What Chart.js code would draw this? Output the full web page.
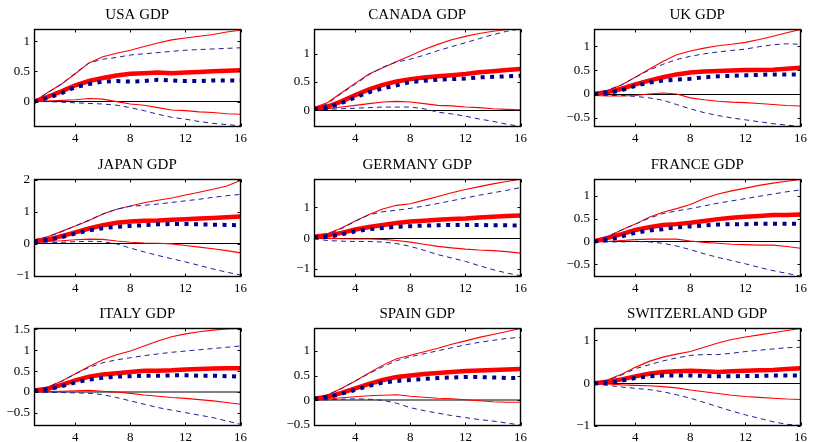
<!DOCTYPE html>
<html>
<head>
<meta charset="utf-8">
<script src="https://cdn.jsdelivr.net/npm/chart.js@4.4.1/dist/chart.umd.min.js"></script>
<style>
  html, body { margin: 0; padding: 0; background: #fff; }
  #grid { position: relative; width: 814px; height: 442px; overflow: hidden; }
  .cell { position: absolute; }
</style>
</head>
<body>
<div id="grid"></div>
<script>
// Horizon (quarters) and shared x ticks
const quarters = [1,2,3,4,5,6,7,8,9,10,11,12,13,14,15,16];
const xTicks = [4, 8, 12, 16];

// USA
const usaRedMid  = [0.00,0.08,0.17,0.27,0.34,0.39,0.43,0.46,0.47,0.48,0.47,0.48,0.49,0.50,0.51,0.52];
const usaRedLo   = [0.00,0.01,0.02,0.03,0.05,0.04,0.00,-0.04,-0.06,-0.10,-0.14,-0.15,-0.17,-0.18,-0.20,-0.21];
const usaRedHi   = [0.00,0.15,0.29,0.46,0.64,0.74,0.80,0.85,0.91,0.97,1.02,1.05,1.08,1.11,1.15,1.18];
const usaBlueMid = [0.00,0.06,0.14,0.24,0.29,0.33,0.34,0.33,0.34,0.36,0.35,0.34,0.34,0.35,0.35,0.35];
const usaBlueLo  = [0.00,0.00,-0.01,-0.02,-0.03,-0.04,-0.06,-0.10,-0.15,-0.21,-0.26,-0.29,-0.33,-0.36,-0.38,-0.40];
const usaBlueHi  = [0.00,0.15,0.29,0.47,0.64,0.70,0.73,0.77,0.79,0.81,0.83,0.85,0.86,0.87,0.88,0.89];
const usaYTicks  = [0, 0.5, 1];

// CANADA
const canRedMid  = [0.03,0.07,0.16,0.27,0.37,0.45,0.51,0.55,0.58,0.60,0.62,0.64,0.67,0.69,0.71,0.73];
const canRedLo   = [0.00,0.03,0.06,0.09,0.12,0.15,0.16,0.15,0.12,0.09,0.08,0.06,0.05,0.03,0.02,0.01];
const canRedHi   = [0.05,0.14,0.31,0.48,0.64,0.75,0.86,0.96,1.07,1.16,1.24,1.30,1.35,1.39,1.42,1.43];
const canBlueMid = [0.02,0.05,0.13,0.23,0.32,0.39,0.44,0.50,0.52,0.54,0.55,0.56,0.58,0.59,0.60,0.61];
const canBlueLo  = [0.00,0.02,0.03,0.04,0.05,0.06,0.06,0.06,0.03,-0.03,-0.06,-0.10,-0.15,-0.19,-0.24,-0.28];
const canBlueHi  = [0.03,0.12,0.30,0.46,0.63,0.76,0.85,0.90,0.97,1.05,1.12,1.19,1.26,1.33,1.39,1.43];
const canYTicks  = [0, 0.5, 1];

// UK
const ukRedMid   = [0.00,0.04,0.11,0.20,0.28,0.35,0.41,0.45,0.47,0.48,0.49,0.50,0.50,0.51,0.53,0.55];
const ukRedLo    = [-0.03,-0.04,-0.04,-0.03,0.00,0.02,0.00,-0.08,-0.12,-0.15,-0.17,-0.18,-0.20,-0.22,-0.24,-0.25];
const ukRedHi    = [0.01,0.08,0.19,0.35,0.52,0.68,0.82,0.90,0.96,1.01,1.04,1.08,1.14,1.21,1.28,1.35];
const ukBlueMid  = [0.00,0.02,0.08,0.17,0.24,0.28,0.30,0.32,0.35,0.37,0.38,0.39,0.40,0.41,0.41,0.41];
const ukBlueLo   = [-0.02,-0.03,-0.03,-0.05,-0.08,-0.13,-0.22,-0.31,-0.39,-0.45,-0.50,-0.54,-0.58,-0.62,-0.65,-0.68];
const ukBlueHi   = [0.01,0.08,0.19,0.35,0.50,0.62,0.72,0.79,0.84,0.88,0.91,0.94,0.99,1.03,1.05,1.04];
const ukYTicks   = [-0.5, 0, 0.5, 1];

// JAPAN
const jpnRedMid  = [0.08,0.13,0.24,0.36,0.48,0.58,0.66,0.70,0.72,0.73,0.75,0.77,0.79,0.81,0.83,0.85];
const jpnRedLo   = [0.05,0.08,0.10,0.13,0.15,0.14,0.09,0.05,0.03,0.02,0.00,-0.05,-0.10,-0.15,-0.21,-0.28];
const jpnRedHi   = [0.12,0.22,0.39,0.56,0.73,0.93,1.08,1.18,1.28,1.36,1.43,1.52,1.61,1.70,1.80,1.97];
const jpnBlueMid = [0.08,0.12,0.21,0.32,0.42,0.49,0.53,0.56,0.58,0.61,0.62,0.62,0.61,0.60,0.59,0.58];
const jpnBlueLo  = [0.03,0.03,0.05,0.07,0.08,0.07,0.00,-0.13,-0.25,-0.36,-0.46,-0.56,-0.67,-0.78,-0.88,-0.97];
const jpnBlueHi  = [0.12,0.22,0.38,0.56,0.74,0.93,1.08,1.17,1.20,1.24,1.29,1.34,1.39,1.45,1.50,1.54];
const jpnYTicks  = [-1, 0, 1, 2];

// GERMANY
const deuRedMid  = [0.04,0.09,0.17,0.28,0.36,0.43,0.49,0.54,0.57,0.60,0.62,0.64,0.67,0.70,0.72,0.74];
const deuRedLo   = [0.00,-0.01,-0.02,-0.03,-0.03,-0.04,-0.08,-0.13,-0.20,-0.27,-0.32,-0.36,-0.39,-0.41,-0.44,-0.49];
const deuRedHi   = [0.08,0.15,0.33,0.56,0.77,0.95,1.07,1.12,1.24,1.36,1.48,1.59,1.68,1.77,1.85,1.92];
const deuBlueMid = [0.02,0.04,0.12,0.22,0.29,0.33,0.37,0.39,0.41,0.42,0.43,0.43,0.43,0.42,0.42,0.41];
const deuBlueLo  = [-0.02,-0.08,-0.10,-0.11,-0.11,-0.13,-0.18,-0.27,-0.40,-0.54,-0.65,-0.76,-0.90,-1.03,-1.14,-1.23];
const deuBlueHi  = [0.06,0.12,0.31,0.55,0.76,0.86,0.91,0.97,1.05,1.13,1.22,1.31,1.40,1.48,1.56,1.65];
const deuYTicks  = [-1, 0, 1];

// FRANCE
const fraRedMid  = [0.00,0.08,0.16,0.25,0.31,0.36,0.38,0.41,0.45,0.49,0.52,0.54,0.56,0.58,0.58,0.59];
const fraRedLo   = [-0.01,0.00,0.02,0.04,0.05,0.05,0.05,0.01,-0.02,-0.04,-0.06,-0.07,-0.08,-0.08,-0.11,-0.15];
const fraRedHi   = [0.01,0.11,0.25,0.38,0.53,0.64,0.72,0.81,0.94,1.04,1.11,1.17,1.23,1.28,1.32,1.36];
const fraBlueMid = [0.00,0.03,0.11,0.19,0.24,0.27,0.31,0.33,0.35,0.37,0.38,0.38,0.39,0.39,0.39,0.39];
const fraBlueLo  = [-0.01,-0.01,-0.01,0.00,-0.01,-0.04,-0.10,-0.18,-0.27,-0.35,-0.42,-0.49,-0.57,-0.64,-0.70,-0.76];
const fraBlueHi  = [0.01,0.11,0.25,0.38,0.51,0.61,0.67,0.72,0.78,0.84,0.89,0.94,0.99,1.04,1.09,1.13];
const fraYTicks  = [-0.5, 0, 0.5, 1];

// ITALY
const itaRedMid  = [0.04,0.08,0.17,0.28,0.37,0.42,0.45,0.48,0.51,0.51,0.52,0.54,0.55,0.56,0.57,0.57];
const itaRedLo   = [0.00,0.01,0.02,0.03,0.04,0.02,0.00,-0.03,-0.07,-0.10,-0.13,-0.15,-0.18,-0.21,-0.25,-0.29];
const itaRedHi   = [0.04,0.12,0.26,0.44,0.61,0.77,0.89,0.98,1.10,1.22,1.32,1.39,1.44,1.48,1.51,1.52];
const itaBlueMid = [0.03,0.06,0.14,0.23,0.30,0.34,0.37,0.38,0.39,0.39,0.40,0.40,0.39,0.39,0.38,0.37];
const itaBlueLo  = [0.00,-0.01,-0.01,-0.02,-0.03,-0.06,-0.13,-0.21,-0.29,-0.37,-0.43,-0.49,-0.55,-0.61,-0.69,-0.77];
const itaBlueHi  = [0.04,0.12,0.26,0.43,0.59,0.70,0.77,0.82,0.87,0.91,0.95,0.98,1.01,1.04,1.07,1.10];
const itaYTicks  = [-0.5, 0, 0.5, 1, 1.5];

// SPAIN
const espRedMid  = [0.03,0.07,0.15,0.24,0.33,0.41,0.47,0.50,0.53,0.55,0.57,0.59,0.60,0.61,0.62,0.63];
const espRedLo   = [0.00,0.02,0.05,0.07,0.09,0.10,0.11,0.08,0.06,0.04,0.03,0.01,-0.01,-0.03,-0.04,-0.04];
const espRedHi   = [0.04,0.11,0.24,0.39,0.55,0.71,0.84,0.91,0.98,1.05,1.13,1.20,1.27,1.33,1.39,1.45];
const espBlueMid = [0.03,0.06,0.13,0.21,0.29,0.36,0.39,0.41,0.43,0.45,0.46,0.47,0.47,0.46,0.45,0.45];
const espBlueLo  = [0.00,0.01,0.02,0.03,0.02,0.00,-0.06,-0.15,-0.21,-0.26,-0.31,-0.35,-0.39,-0.42,-0.46,-0.50];
const espBlueHi  = [0.04,0.11,0.24,0.39,0.54,0.68,0.80,0.88,0.94,1.00,1.06,1.12,1.17,1.21,1.25,1.27];
const espYTicks  = [-0.5, 0, 0.5, 1];

// SWITZERLAND
const cheRedMid  = [0.00,0.03,0.09,0.16,0.22,0.26,0.28,0.29,0.28,0.26,0.28,0.29,0.30,0.31,0.33,0.35];
const cheRedLo   = [0.00,-0.02,-0.04,-0.05,-0.06,-0.08,-0.11,-0.16,-0.20,-0.24,-0.28,-0.31,-0.33,-0.35,-0.37,-0.38];
const cheRedHi   = [0.02,0.08,0.21,0.37,0.51,0.61,0.68,0.74,0.84,0.94,1.02,1.08,1.13,1.18,1.23,1.28];
const cheBlueMid = [0.00,0.00,0.06,0.12,0.16,0.18,0.18,0.18,0.17,0.16,0.16,0.17,0.17,0.18,0.18,0.18];
const cheBlueLo  = [-0.01,-0.05,-0.09,-0.12,-0.15,-0.20,-0.27,-0.35,-0.45,-0.55,-0.65,-0.74,-0.82,-0.90,-0.96,-0.99];
const cheBlueHi  = [0.02,0.07,0.19,0.34,0.43,0.52,0.59,0.65,0.67,0.67,0.70,0.74,0.77,0.80,0.83,0.84];
const cheYTicks  = [-1, 0, 1];

const titles = ['USA GDP', 'CANADA GDP', 'UK GDP', 'JAPAN GDP', 'GERMANY GDP', 'FRANCE GDP',
                'ITALY GDP', 'SPAIN GDP', 'SWITZERLAND GDP'];

const panels = [
  { series: [usaRedMid, usaRedLo, usaRedHi, usaBlueMid, usaBlueLo, usaBlueHi], yTicks: usaYTicks, min: -0.42, max: 1.20 },
  { series: [canRedMid, canRedLo, canRedHi, canBlueMid, canBlueLo, canBlueHi], yTicks: canYTicks, min: -0.29, max: 1.43 },
  { series: [ukRedMid,  ukRedLo,  ukRedHi,  ukBlueMid,  ukBlueLo,  ukBlueHi ], yTicks: ukYTicks,  min: -0.69, max: 1.36 },
  { series: [jpnRedMid, jpnRedLo, jpnRedHi, jpnBlueMid, jpnBlueLo, jpnBlueHi], yTicks: jpnYTicks, min: -1.03, max: 2.02 },
  { series: [deuRedMid, deuRedLo, deuRedHi, deuBlueMid, deuBlueLo, deuBlueHi], yTicks: deuYTicks, min: -1.27, max: 1.93 },
  { series: [fraRedMid, fraRedLo, fraRedHi, fraBlueMid, fraBlueLo, fraBlueHi], yTicks: fraYTicks, min: -0.78, max: 1.37 },
  { series: [itaRedMid, itaRedLo, itaRedHi, itaBlueMid, itaBlueLo, itaBlueHi], yTicks: itaYTicks, min: -0.81, max: 1.53, zeroGrey: true },
  { series: [espRedMid, espRedLo, espRedHi, espBlueMid, espBlueLo, espBlueHi], yTicks: espYTicks, min: -0.52, max: 1.46, zeroGrey: true },
  { series: [cheRedMid, cheRedLo, cheRedHi, cheBlueMid, cheBlueLo, cheBlueHi], yTicks: cheYTicks, min: -1.00, max: 1.29 }
];

// Geometry of the 3x3 grid
const colLeft = [0, 280, 560];
const rowTop  = [3, 153, 302];
const Y_AXIS_W = 34, X_AXIS_H = 18, TITLE_H = 26, PLOT_W = 213, PLOT_H = 98, PAD_R = 4;
const SERIF = '"Liberation Serif", "DejaVu Serif", serif';

const RED = '#ff0000';
const NAVY = '#00008b';
const NAVY_THIN = '#1f1f96';

function fmt(v) {
  const s = String(Math.abs(v));
  return v < 0 ? '\u2212' + s : s;
}

// Closed box with inward ticks on all four sides
const boxPlugin = {
  id: 'box',
  afterDatasetsDraw(chart) {
    const { ctx, chartArea: a, scales } = chart;
    ctx.save();
    ctx.strokeStyle = '#000';
    ctx.lineWidth = 1.4;
    const L = Math.round(a.left) + 0.5, R = Math.round(a.right) - 0.5;
    const T = Math.round(a.top) + 0.5, B = Math.round(a.bottom) - 0.5;
    ctx.strokeRect(L, T, R - L, B - T);
    ctx.beginPath();
    ctx.lineWidth = 1;
    const tl = 3;
    scales.x.ticks.forEach(t => {
      const px = Math.round(scales.x.getPixelForValue(t.value)) + 0.5;
      ctx.moveTo(px, B); ctx.lineTo(px, B - tl);
      ctx.moveTo(px, T); ctx.lineTo(px, T + tl);
    });
    scales.y.ticks.forEach(t => {
      const py = Math.round(scales.y.getPixelForValue(t.value)) + 0.5;
      ctx.moveTo(L, py); ctx.lineTo(L + tl, py);
      ctx.moveTo(R, py); ctx.lineTo(R - tl, py);
    });
    ctx.stroke();
    ctx.restore();
  }
};

const grid = document.getElementById('grid');

panels.forEach((p, i) => {
  const r = Math.floor(i / 3), c = i % 3;
  const W = Y_AXIS_W + PLOT_W + PAD_R, H = TITLE_H + PLOT_H + X_AXIS_H;
  const div = document.createElement('div');
  div.className = 'cell';
  div.style.left = colLeft[c] + 'px';
  div.style.top = rowTop[r] + 'px';
  const cv = document.createElement('canvas');
  cv.width = W; cv.height = H;
  cv.style.width = W + 'px'; cv.style.height = H + 'px';
  div.appendChild(cv);
  grid.appendChild(div);

  const [redMid, redLo, redHi, blueMid, blueLo, blueHi] = p.series;
  const pts = arr => arr.map((v, k) => ({ x: quarters[k], y: v }));
  const thinRed = d => ({ data: pts(d), borderColor: RED, borderWidth: 1.1, order: 4 });
  const thinBlue = d => ({ data: pts(d), borderColor: NAVY_THIN, borderWidth: 1, borderDash: [5, 4], order: 2 });

  new Chart(cv, {
    type: 'line',
    data: {
      datasets: [
        thinRed(redLo), thinRed(redHi),
        { data: pts(redMid), borderColor: RED, borderWidth: 4.5, order: 3 },
        thinBlue(blueLo), thinBlue(blueHi),
        { data: pts(blueMid), borderColor: NAVY, borderWidth: 4, borderDash: [4, 5.5], borderCapStyle: 'butt', order: 1 }
      ]
    },
    options: {
      responsive: false,
      animation: false,
      devicePixelRatio: 1,
      layout: { padding: { top: 0, right: PAD_R, bottom: 0, left: 0 } },
      elements: { point: { radius: 0, hoverRadius: 0 }, line: { tension: 0 } },
      plugins: {
        legend: { display: false },
        tooltip: { enabled: false },
        title: {
          display: true, text: titles[i], color: '#000', fullSize: false,
          font: { family: SERIF, size: 15, weight: 'normal' },
          padding: { top: 3, bottom: 5 }
        }
      },
      scales: {
        x: {
          type: 'linear', min: 1, max: 16,
          afterBuildTicks: s => { s.ticks = xTicks.map(v => ({ value: v })); },
          afterFit: s => { s.height = X_AXIS_H; },
          grid: { display: false, drawTicks: false },
          border: { display: false },
          ticks: { color: '#000', padding: 4, maxRotation: 0, font: { family: SERIF, size: 13 }, callback: v => fmt(v) }
        },
        y: {
          type: 'linear', min: p.min, max: p.max,
          afterBuildTicks: s => { s.ticks = p.yTicks.map(v => ({ value: v })); },
          afterFit: s => { s.width = Y_AXIS_W; },
          grid: {
            drawTicks: false,
            lineWidth: ctx => (ctx.tick && ctx.tick.value === 0 && p.zeroGrey) ? 2 : 1,
            color: ctx => (ctx.tick && ctx.tick.value === 0) ? (p.zeroGrey ? '#808080' : '#000') : 'rgba(0,0,0,0)'
          },
          border: { display: false },
          ticks: { color: '#000', padding: 4, font: { family: SERIF, size: 13 }, callback: v => fmt(v) }
        }
      }
    },
    plugins: [boxPlugin]
  });
});
</script>
</body>
</html>
